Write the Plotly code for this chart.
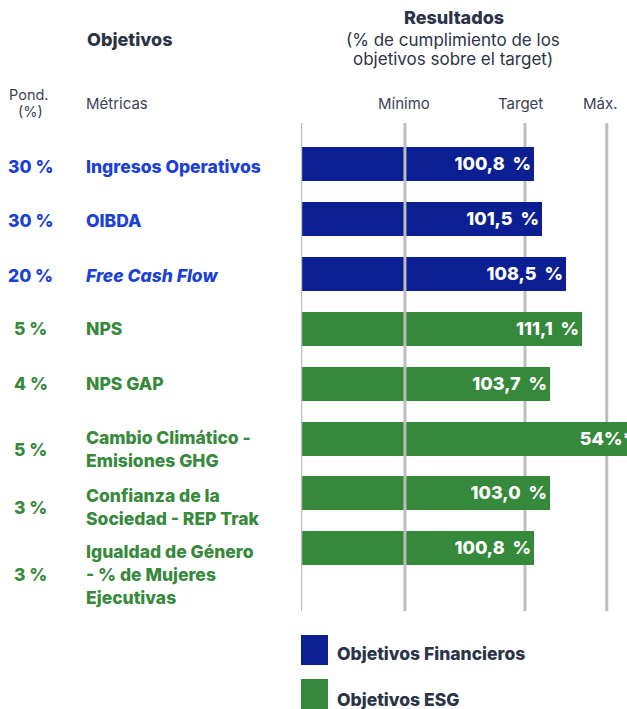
import plotly.graph_objects as go

# ---------------- data ----------------
metricas = ["Ingresos Operativos", "OIBDA", "<i>Free Cash Flow</i>", "NPS", "NPS GAP",
            "Cambio Climático -<br>Emisiones GHG", "Confianza de la<br>Sociedad - REP Trak",
            "Igualdad de Género<br>- % de Mujeres<br>Ejecutivas"]
ponderacion = ["30 %", "30 %", "20 %", "5 %", "4 %", "5 %", "3 %", "3 %"]
grupo = ["fin", "fin", "fin", "esg", "esg", "esg", "esg", "esg"]
# bar length on the chart scale (target = 100)
longitud = [104.0, 107.6, 118.3, 125.4, 111.2, 149.6, 111.2, 104.0]
etiquetas = ["100,8\u00a0 %", "101,5\u00a0 %", "108,5\u00a0 %", "111,1\u00a0 %", "103,7\u00a0 %",
             "54%*", "103,0\u00a0 %", "100,8\u00a0 %"]
referencias = {"Mínimo": 46.4, "Target": 100.0, "Máx.": 136.5}
leyenda = ["Objetivos Financieros", "Objetivos ESG"]

# ---------------- style ----------------
W, H = 627, 709
FONT = "Inter"
DARK = "#2b3447"
GREY = "#3a4254"
BAR_C = {"fin": "#0b1f93", "esg": "#36883b"}
TXT_C = {"fin": "#1b3fd8", "esg": "#378a3c"}
GRID = "#bdbdbd"
BOLD = 800

def px(x):
    return x / W

def py(y):
    return 1 - y / H

cats = list(range(len(metricas)))

fig = go.Figure()
for g in ["fin", "esg"]:
    idx = [i for i in cats if grupo[i] == g]
    fig.add_trace(go.Bar(
        x=[longitud[i] for i in idx], y=idx, orientation="h",
        marker=dict(color=BAR_C[g], line=dict(width=0)), width=0.62,
        text=[etiquetas[i] for i in idx], textposition="inside", insidetextanchor="end",
        textfont=dict(family=FONT, size=18, color="white", weight=BOLD),
        constraintext="none", cliponaxis=True, showlegend=False, hoverinfo="skip"))

shapes = []
shapes.append(dict(type="line", xref="x", yref="paper", x0=0, x1=0, y0=py(611), y1=py(123),
                   line=dict(color=GRID, width=2.5), layer="above"))
for name, v in referencias.items():
    shapes.append(dict(type="line", xref="x", yref="paper", x0=v, x1=v, y0=py(611), y1=py(123),
                       line=dict(color=GRID, width=3),
                       layer="above" if name == "Mínimo" else "below"))
shapes.append(dict(type="rect", xref="paper", yref="paper", x0=px(301), x1=px(328),
                   y0=py(665), y1=py(635), fillcolor=BAR_C["fin"], line=dict(width=0)))
shapes.append(dict(type="rect", xref="paper", yref="paper", x0=px(301), x1=px(328),
                   y0=py(709), y1=py(679), fillcolor=BAR_C["esg"], line=dict(width=0)))

ann = []
def A(text, x, y, size, color=DARK, bold=False, xanchor="left"):
    ann.append(dict(text=text, x=px(x), y=py(y), xref="paper", yref="paper", showarrow=False,
                    xanchor=xanchor, yanchor="middle", align=xanchor,
                    font=dict(family=FONT, size=size, color=color, weight=BOLD if bold else 400)))

A("Objetivos", 85, 39, 18, bold=True)
A("Resultados", 454, 18, 18, bold=True, xanchor="center")
A("(% de cumplimiento de los", 453, 40, 17, xanchor="center")
A("objetivos sobre el target)", 453, 59, 17, xanchor="center")
A("Pond.", 29, 94, 14.5, color=GREY, xanchor="center")
A("(%)", 31, 112, 14.5, color=GREY, xanchor="center")
A("Métricas", 84, 103, 15, color=GREY)

ref_px = {"Mínimo": 404, "Target": 520, "Máx.": 600}
for name in referencias:
    A(name, ref_px[name], 103, 15, color=GREY, xanchor="center")

label_y = [167, 221, 275, 329, 383, 449, 507, 574]
for i in cats:
    A(ponderacion[i], 31, label_y[i], 17.5, color=TXT_C[grupo[i]], bold=True, xanchor="center")
    A(metricas[i], 84, label_y[i], 17.5, color=TXT_C[grupo[i]], bold=True)

A(leyenda[0], 335, 653, 17.5, bold=True)
A(leyenda[1], 335, 699, 17.5, bold=True)

fig.update_layout(
    width=W, height=H, margin=dict(l=0, r=0, t=0, b=0),
    paper_bgcolor="white", plot_bgcolor="white",
    barmode="overlay", bargap=0,
    xaxis=dict(domain=[px(301), 1], range=[0, 326 / 2.24], showgrid=False, zeroline=False,
               showticklabels=False, fixedrange=True),
    yaxis=dict(domain=[py(575.5), py(136.8)], range=[7.5, -0.5], showgrid=False, zeroline=False,
               showticklabels=False, fixedrange=True),
    shapes=shapes, annotations=ann, showlegend=False,
)

fig.write_html("out.html", config={"displayModeBar": False},
               post_script="document.body.style.margin='0';document.body.style.overflow='hidden';")
